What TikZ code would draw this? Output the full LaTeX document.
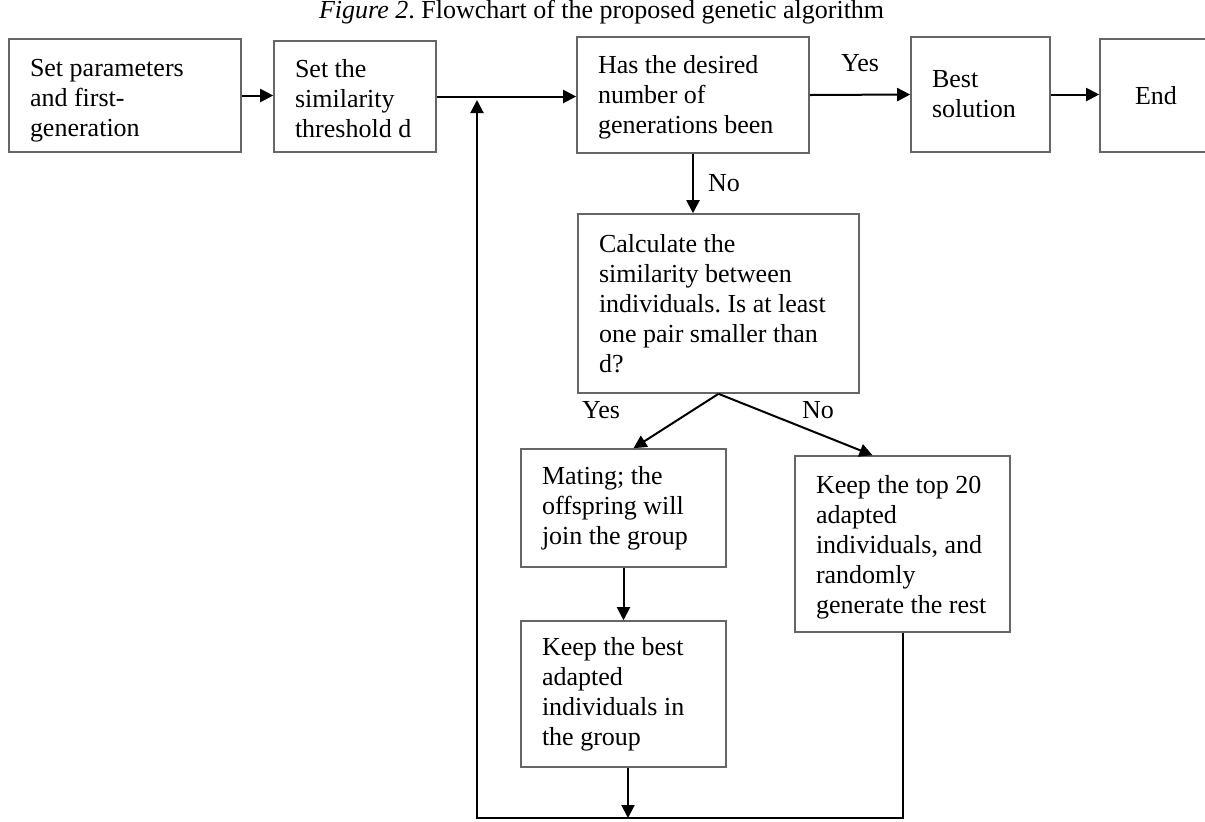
\documentclass[tikz,border=0pt]{standalone}
\usepackage{fontspec}
\setmainfont{Liberation Serif}
\usepackage{xcolor}
\usepackage{tikz}
\usetikzlibrary{arrows.meta}
\frenchspacing

\begin{document}
\begin{tikzpicture}[x=0.5pt, y=-0.5pt,
        font=\fontsize{13}{15}\selectfont,
        blk/.style={draw=black!60, line width=0.8pt, rectangle,
            inner xsep=10.5pt, inner ysep=0pt,
            execute at begin node={\spaceskip=0pt\xspaceskip=0pt\relax}},
        lbl/.style={inner sep=3.33pt},
        arr/.style={line width=1pt, -{Triangle[length=6.5pt, width=6.5pt]}}]
        \useasboundingbox (0,0) rectangle (1205,821);

        \node[anchor=base west] (title) at (312,18) {\textit{Figure 2}. Flowchart of the proposed genetic algorithm};

        % top row
        \node[blk, minimum width=116pt, minimum height=56.5pt, text width=95pt, text height=13.8pt] (init) at (125,95.5) {Set parameters\\and first-\\generation};
        \node[blk, minimum width=81pt,  minimum height=55.5pt, text width=60pt, text height=10.9pt] (thresh) at (355,96.5) {Set the\\similarity\\threshold d};
        \node[blk, minimum width=116pt, minimum height=58pt,   text width=95pt, text height=11pt] (gen) at (693,95) {Has the desired\\number of\\generations been};
        \node[blk, minimum width=69.5pt, minimum height=57.5pt, text width=48.5pt] (best) at (980.5,94.5) {Best\\solution};
        \node[blk, minimum width=56pt,  minimum height=56.5pt, text width=35pt, align=center] (end) at (1156,95.5) {End};

        % middle
        \node[blk, minimum width=140.5pt, minimum height=89.5pt, text width=119.5pt] (sim) at (718.5,303.5) {Calculate the\\similarity between\\individuals. Is at least\\one pair smaller than\\d?};

        \node[blk, minimum width=102.5pt, minimum height=59pt, text width=81.5pt] (mate)     at (623.5,508) {Mating; the\\offspring will\\join the group};
        \node[blk, minimum width=102.5pt, minimum height=73pt, text width=81.5pt] (keepbest) at (623.5,694) {Keep the best\\adapted\\individuals in\\the group};
        \node[blk, minimum width=107.5pt, minimum height=88pt, text width=86.5pt, text height=11.9pt] (keeptop) at (902.5,544) {Keep the top 20\\adapted\\individuals, and\\randomly\\generate the rest};

        \node[lbl] (yesl) at (601,410.5) {Yes};
        \node[lbl] (nol)  at (818,410.5) {No};

        \coordinate (join)    at (628,818);
        \coordinate (backtop) at (477,100);

        \draw[arr] (init.east) -- (init.east -| thresh.west);
        \draw[arr] (thresh.east) -- (thresh.east -| gen.west);
        \draw[arr] (gen.east) -- node[lbl, above=7.5pt] {Yes} (best.west);
        \draw[arr] (best.east) -- (best.east -| end.west);
        \draw[arr] (gen.south) -- node[lbl, right=3.7pt] {No} (gen.south |- sim.north);

        \draw[arr] (sim.south) -- ([xshift=5pt]mate.north);
        \draw[arr] (sim.south) -- ([xshift=-15pt]keeptop.north);
        \draw[arr] (mate.south) -- (keepbest.north);

        % back to the loop
        \draw[arr] (keepbest.south -| join) -- (join);
        \draw[line width=1pt] (keeptop.south) |- (join);
        \draw[arr] (join) -| (backtop);
\end{tikzpicture}
\end{document}
